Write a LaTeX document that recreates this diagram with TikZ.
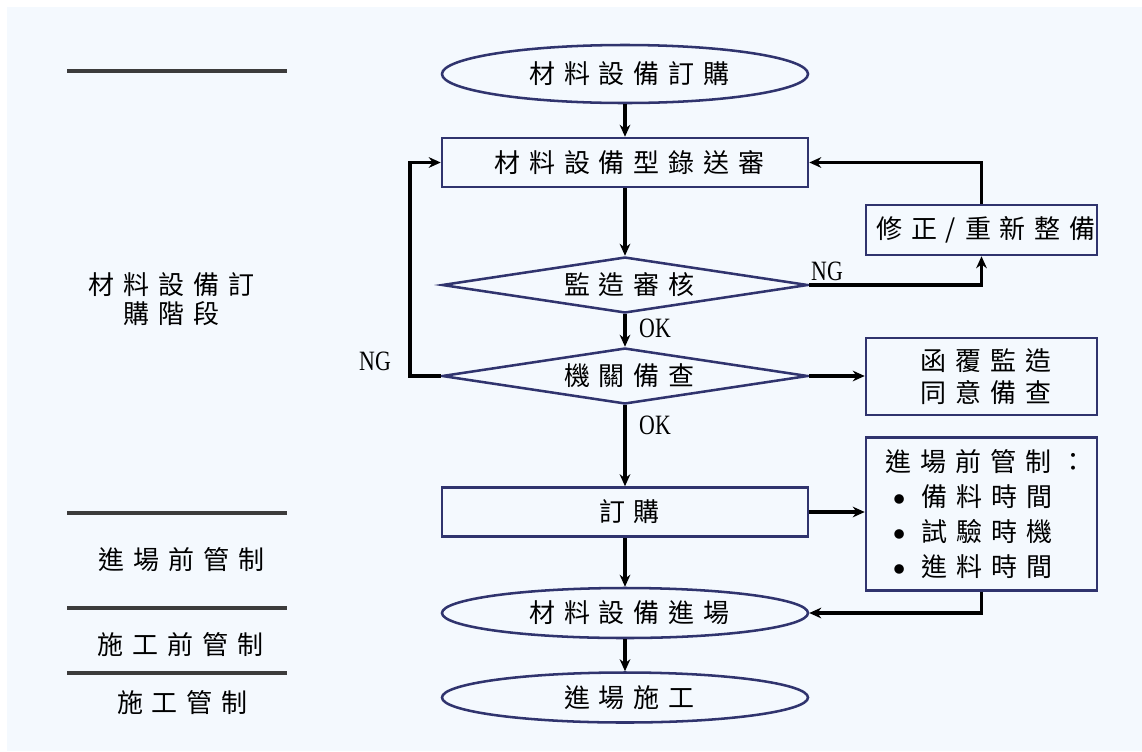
\documentclass[tikz,border=0pt]{standalone}
\usepackage{fontspec}
\newfontfamily\cjkf[LetterSpace=34]{Noto Sans CJK TC}
\newfontfamily\cjkb{Noto Sans CJK TC}
\newfontfamily\latf[FakeStretch=0.78]{Liberation Serif}
\usetikzlibrary{shapes.geometric,arrows.meta}
\definecolor{bgc}{RGB}{244,249,254}
\definecolor{navy}{RGB}{48,52,110}
\definecolor{sepc}{RGB}{60,60,60}
\newcommand\cj[1]{#1\kern-0.34em}
\newcommand\blt{{\cjkb\fontsize{8pt}{8pt}\selectfont\raisebox{2.5pt}{●}}}
\newcommand\lt[1]{{\latf\fontsize{21pt}{24pt}\selectfont #1}}
\tikzset{
  cjfont/.style={font={\cjkf\fontsize{19.5pt}{21.75pt}\selectfont}},
  shp/.style={draw=navy, line width=1.9pt, fill=bgc, inner sep=0pt, cjfont},
  ell/.style={shp, ellipse, minimum width=366*0.75pt},
  boxs/.style={shp, rectangle},
  dia/.style={shp, diamond, aspect=6.5, minimum width=366*0.75pt, minimum height=56*0.75pt},
  arr/.style={-{Stealth[length=9pt,width=8pt]}, line width=2.7pt, black},
  sepl/.style={line width=3.2pt, sepc},
  lab/.style={inner sep=0pt, cjfont}
}
\begin{document}
\begin{tikzpicture}[x=0.75pt,y=-0.75pt]
\fill[white] (0,0) rectangle (1142,751);
\fill[bgc] (7,7) rectangle (1142,751);
\useasboundingbox (0,0) rectangle (1142,751);

% left separators
\draw[sepl] (67,71) -- (287,71);
\draw[sepl] (67,513) -- (287,513);
\draw[sepl] (67,608) -- (287,608);
\draw[sepl] (67,673) -- (287,673);

% left labels
\node[lab, align=center] (stage1) at (167,299) {\cj{材料設備訂}\\\cj{購階段}};
\node[lab] (stage2) at (177,560) {\cj{進場前管制}};
\node[lab] (stage3) at (176,645) {\cj{施工前管制}};
\node[lab] (stage4) at (178,703) {\cj{施工管制}};

% main flow
\node[ell, minimum height=58*0.75pt] (e1) at (625,74) {\cj{材料設備訂購}};
\node[boxs, minimum width=366*0.75pt, minimum height=49*0.75pt] (r1) at (625,162.5) {\cj{材料設備型錄送審}};
\node[dia] (d1) at (625,285) {\cj{監造審核}};
\node[dia] (d2) at (625,376) {\cj{機關備查}};
\node[boxs, minimum width=366*0.75pt, minimum height=49*0.75pt] (r2) at (625,512) {\cj{訂購}};
\node[ell, minimum height=50*0.75pt] (e2) at (625,613) {\cj{材料設備進場}};
\node[ell, minimum height=50*0.75pt] (e3) at (625,697.5) {\cj{進場施工}};

% right boxes
\node[boxs, minimum width=231*0.75pt, minimum height=50*0.75pt] (fix) at (981.5,230) {\cj{修正/重新整備}};
\node[boxs, minimum width=231*0.75pt, minimum height=77*0.75pt, align=center,
      font={\cjkf\fontsize{19.5pt}{23.5pt}\selectfont}] (ack) at (981.5,376.5) {\cj{函覆監造}\\\cj{同意備查}};
\node[boxs, minimum width=231*0.75pt, minimum height=153*0.75pt, align=left,
      font={\cjkf\fontsize{19.5pt}{26.25pt}\selectfont}] (pre) at (981.5,514)
  {\cj{進場前管制：}\\
   \hspace*{6pt}\blt\hspace{13pt}\cj{備料時間}\\
   \hspace*{6pt}\blt\hspace{13pt}\cj{試驗時機}\\
   \hspace*{6pt}\blt\hspace{13pt}\cj{進料時間}};

% connectors
\draw[arr] (e1.south) -- (r1.north);
\draw[arr] (r1.south) -- (d1.north);
\draw[arr] (d1.south) -- (d2.north);
\draw[arr] (d2.south) -- (r2.north);
\draw[arr] (r2.south) -- (e2.north);
\draw[arr] (e2.south) -- (e3.north);
\draw[arr] (d1.east) -| (fix.south);
\draw[arr] (fix.north) |- (r1.east);
\coordinate (lp) at (410,376);
\draw[arr] (d2.west) -- (lp) |- (r1.west);
\draw[arr] (d2.east) -- (d2.east -| ack.west);
\draw[arr] (r2.east) -- (r2.east -| pre.west);
\draw[arr] (pre.south) |- (e2.east);

% labels
\node[inner sep=0pt] (ok1) at (655,328) {\lt{OK}};
\node[inner sep=0pt] (ok2) at (655,425) {\lt{OK}};
\node[inner sep=0pt] (ng1) at (827,271) {\lt{NG}};
\node[inner sep=0pt] (ng2) at (375,361) {\lt{NG}};
\end{tikzpicture}
\end{document}
